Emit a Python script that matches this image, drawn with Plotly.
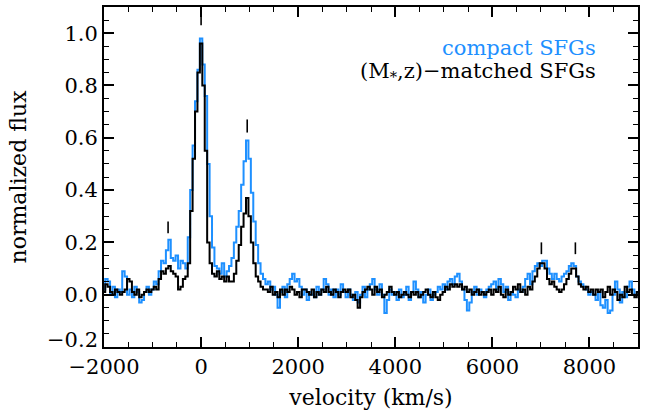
import numpy as np
import plotly.graph_objects as go

# velocity bins (km/s), 50 km/s steps from -2000 to 9000
v_start, v_step = -2000, 50

compact = [
    # -2000 .. -1050
    0.02, 0.06, 0.05, 0.00, 0.03, -0.01, 0.02, 0.01, 0.09, 0.07,
    0.00, 0.02, -0.01, 0.03, 0.01, -0.03, -0.02, 0.01, 0.03, 0.00,
    # -1000 .. -50
    0.02, 0.05, 0.04, 0.09, 0.13, 0.12, 0.17, 0.21, 0.14, 0.13,
    0.15, 0.10, 0.13, 0.12, 0.10, 0.22, 0.40, 0.57, 0.74, 0.86,
    # 0 .. 950
    0.98, 0.88, 0.76, 0.50, 0.30, 0.18, 0.11, 0.10, 0.08, 0.12,
    0.07, 0.09, 0.11, 0.14, 0.20, 0.26, 0.32, 0.42, 0.51, 0.59,
    # 1000 .. 1950
    0.52, 0.39, 0.28, 0.19, 0.12, 0.08, 0.06, 0.04, 0.05, 0.02,
    0.03, 0.00, -0.05, 0.01, 0.03, -0.01, 0.04, 0.06, 0.08, 0.05,
    # 2000 .. 2950
    0.06, 0.03, 0.00, 0.02, -0.02, 0.01, 0.00, -0.01, 0.03, 0.00,
    0.02, 0.06, 0.04, 0.00, 0.02, -0.01, 0.02, 0.00, 0.04, 0.01,
    # 3000 .. 3950
    -0.01, 0.02, 0.00, -0.02, 0.01, -0.03, 0.00, 0.03, -0.01, 0.02,
    0.04, 0.06, 0.02, 0.00, 0.04, 0.00, -0.07, -0.02, 0.02, 0.00,
    # 4000 .. 4950
    0.01, -0.02, 0.02, -0.01, 0.00, 0.03, -0.02, 0.01, 0.05, 0.02,
    -0.01, 0.01, -0.03, 0.00, 0.02, -0.02, 0.00, 0.01, 0.03, 0.02,
    # 5000 .. 5950
    0.04, 0.02, 0.05, 0.06, 0.04, 0.07, 0.08, 0.05, 0.02, -0.02,
    -0.06, -0.03, 0.01, 0.03, 0.00, 0.02, 0.01, -0.01, 0.02, 0.03,
    # 6000 .. 6950
    0.04, 0.05, 0.02, 0.06, 0.04, 0.01, 0.03, -0.02, 0.01, 0.00,
    -0.01, 0.02, 0.01, 0.03, 0.06, 0.08, 0.04, 0.09, 0.11, 0.12,
    # 7000 .. 7950
    0.11, 0.13, 0.13, 0.10, 0.08, 0.06, 0.08, 0.06, 0.05, 0.07,
    0.08, 0.09, 0.11, 0.12, 0.11, 0.07, 0.05, 0.04, 0.03, 0.02,
    # 8000 .. 8950
    0.00, 0.01, 0.00, -0.02, 0.01, -0.04, -0.05, -0.02, -0.07, -0.06,
    0.00, 0.05, 0.02, -0.03, 0.01, -0.01, 0.03, 0.05, 0.02, 0.00,
    # 9000
    0.01,
]

matched = [
    # -2000 .. -1050
    0.01, 0.04, 0.03, 0.01, 0.00, 0.02, 0.01, 0.00, 0.01, 0.02,
    0.06, 0.05, 0.01, 0.00, 0.02, -0.01, 0.00, 0.01, 0.02, 0.01,
    # -1000 .. -50
    0.02, 0.03, 0.02, 0.06, 0.09, 0.08, 0.10, 0.11, 0.09, 0.08,
    0.07, 0.02, 0.03, 0.06, 0.07, 0.12, 0.32, 0.52, 0.70, 0.85,
    # 0 .. 950
    0.96, 0.80, 0.55, 0.20, 0.12, 0.08, 0.07, 0.09, 0.06, 0.07,
    0.05, 0.07, 0.05, 0.05, 0.08, 0.13, 0.19, 0.26, 0.31, 0.37,
    # 1000 .. 1950
    0.30, 0.20, 0.12, 0.07, 0.05, 0.03, 0.02, 0.02, 0.01, 0.03,
    0.00, 0.01, -0.01, 0.02, 0.00, 0.02, 0.01, 0.03, 0.02, 0.00,
    # 2000 .. 2950
    0.01, -0.01, 0.02, 0.02, 0.01, 0.00, 0.02, -0.01, 0.01, 0.00,
    0.02, 0.01, 0.03, 0.01, 0.00, 0.02, 0.01, -0.01, 0.01, 0.02,
    # 3000 .. 3950
    0.01, 0.02, -0.01, 0.00, -0.02, -0.05, -0.01, 0.01, 0.02, 0.03,
    0.02, 0.00, 0.03, 0.01, 0.02, -0.01, 0.00, 0.01, 0.03, 0.01,
    # 4000 .. 4950
    0.00, 0.01, -0.01, 0.00, 0.01, 0.00, -0.01, 0.01, 0.00, 0.01,
    -0.01, 0.00, 0.01, 0.02, 0.00, -0.01, 0.01, -0.01, -0.02, 0.00,
    # 5000 .. 5950
    0.01, 0.03, 0.02, 0.04, 0.03, 0.04, 0.03, 0.04, 0.02, 0.03,
    0.01, 0.02, 0.00, 0.01, 0.02, 0.00, 0.01, 0.00, 0.01, 0.02,
    # 6000 .. 6950
    0.00, 0.02, 0.01, 0.03, 0.00, -0.01, 0.02, 0.00, 0.01, 0.03,
    0.02, 0.04, 0.01, 0.02, 0.00, 0.03, 0.02, 0.05, 0.07, 0.10,
    # 7000 .. 7950
    0.12, 0.12, 0.10, 0.06, 0.04, 0.05, 0.03, 0.02, 0.01, 0.02,
    0.04, 0.06, 0.08, 0.10, 0.10, 0.07, 0.04, 0.03, 0.02, 0.03,
    # 8000 .. 8950
    0.01, 0.02, 0.00, 0.02, 0.01, 0.02, -0.01, 0.01, 0.03, 0.00,
    0.02, 0.01, -0.02, 0.00, -0.01, 0.03, 0.01, 0.02, 0.00, -0.01,
    # 9000
    0.01,
]

velocity = [v_start + v_step * i for i in range(len(compact))]

# line-position markers
mark_v = [-680, 0, 950, 7010, 7710]
mark_lo = [0.235, 1.03, 0.62, 0.155, 0.155]
mark_hi = [0.280, 1.065, 0.67, 0.200, 0.200]

x_ticks = [-2000, 0, 2000, 4000, 6000, 8000]
x_ticklabels = ["\u22122000", "0", "2000", "4000", "6000", "8000"]
y_ticks = [-0.2, 0.0, 0.2, 0.4, 0.6, 0.8, 1.0]
y_ticklabels = ["\u22120.2", "0.0", "0.2", "0.4", "0.6", "0.8", "1.0"]

BLUE = "#1e90ff"
FONT = "DejaVu Serif"
TICK_SIZE = 21

fig = go.Figure()
fig.add_trace(go.Scatter(x=velocity, y=compact, mode="lines",
                         line=dict(color=BLUE, width=2, shape="hvh"),
                         showlegend=False))
fig.add_trace(go.Scatter(x=velocity, y=matched, mode="lines",
                         line=dict(color="black", width=2, shape="hvh"),
                         showlegend=False))

mx, my = [], []
for v, lo, hi in zip(mark_v, mark_lo, mark_hi):
    mx += [v, v, None]
    my += [lo, hi, None]
fig.add_trace(go.Scatter(x=mx, y=my, mode="lines",
                         line=dict(color="black", width=1.6),
                         showlegend=False))

axis_common = dict(
    showgrid=False, zeroline=False, showline=True, linecolor="black",
    linewidth=2, mirror="ticks", ticks="inside", ticklen=10, tickwidth=1.5,
    tickcolor="black", tickfont=dict(family=FONT, size=TICK_SIZE, color="black"),
)

fig.update_xaxes(
    range=[-2000, 9000], tickvals=x_ticks, ticktext=x_ticklabels,
    title=dict(text="velocity (km/s)", font=dict(family=FONT, size=22, color="black"),
               standoff=11),
    minor=dict(dtick=500, tick0=0, ticks="inside", ticklen=5, tickwidth=1.2,
               tickcolor="black"),
    **axis_common,
)
# the lowest y label is lifted above the bottom axis (drawn separately below)
y_text_shown = [""] + y_ticklabels[1:]
fig.update_yaxes(
    range=[-0.2, 1.1], tickvals=y_ticks, ticktext=y_text_shown,
    title=dict(text="normalized flux", font=dict(family=FONT, size=22, color="black"),
               standoff=32),
    minor=dict(dtick=0.05, tick0=0, ticks="inside", ticklen=5, tickwidth=1.2,
               tickcolor="black"),
    **axis_common,
)
fig.add_annotation(x=0, xref="paper", y=y_ticks[0], yref="y",
                   text=y_ticklabels[0], showarrow=False, xanchor="right",
                   yanchor="middle", xshift=-4, yshift=7,
                   font=dict(family=FONT, size=TICK_SIZE, color="black"))

fig.add_annotation(x=0.925, y=0.88, xref="paper", yref="paper",
                   text="compact SFGs", showarrow=False, xanchor="right",
                   yanchor="middle", font=dict(family=FONT, size=21, color=BLUE))
fig.add_annotation(x=0.925, y=0.81, xref="paper", yref="paper",
                   text="(M<sub>*</sub>,z)\u2212matched SFGs", showarrow=False,
                   xanchor="right", yanchor="middle",
                   font=dict(family=FONT, size=21, color="black"))

fig.update_layout(
    width=646, height=411,
    margin=dict(l=104, r=8, t=5, b=63),
    plot_bgcolor="white", paper_bgcolor="white",
    font=dict(family=FONT, color="black"),
)

fig.write_html("out.html")
